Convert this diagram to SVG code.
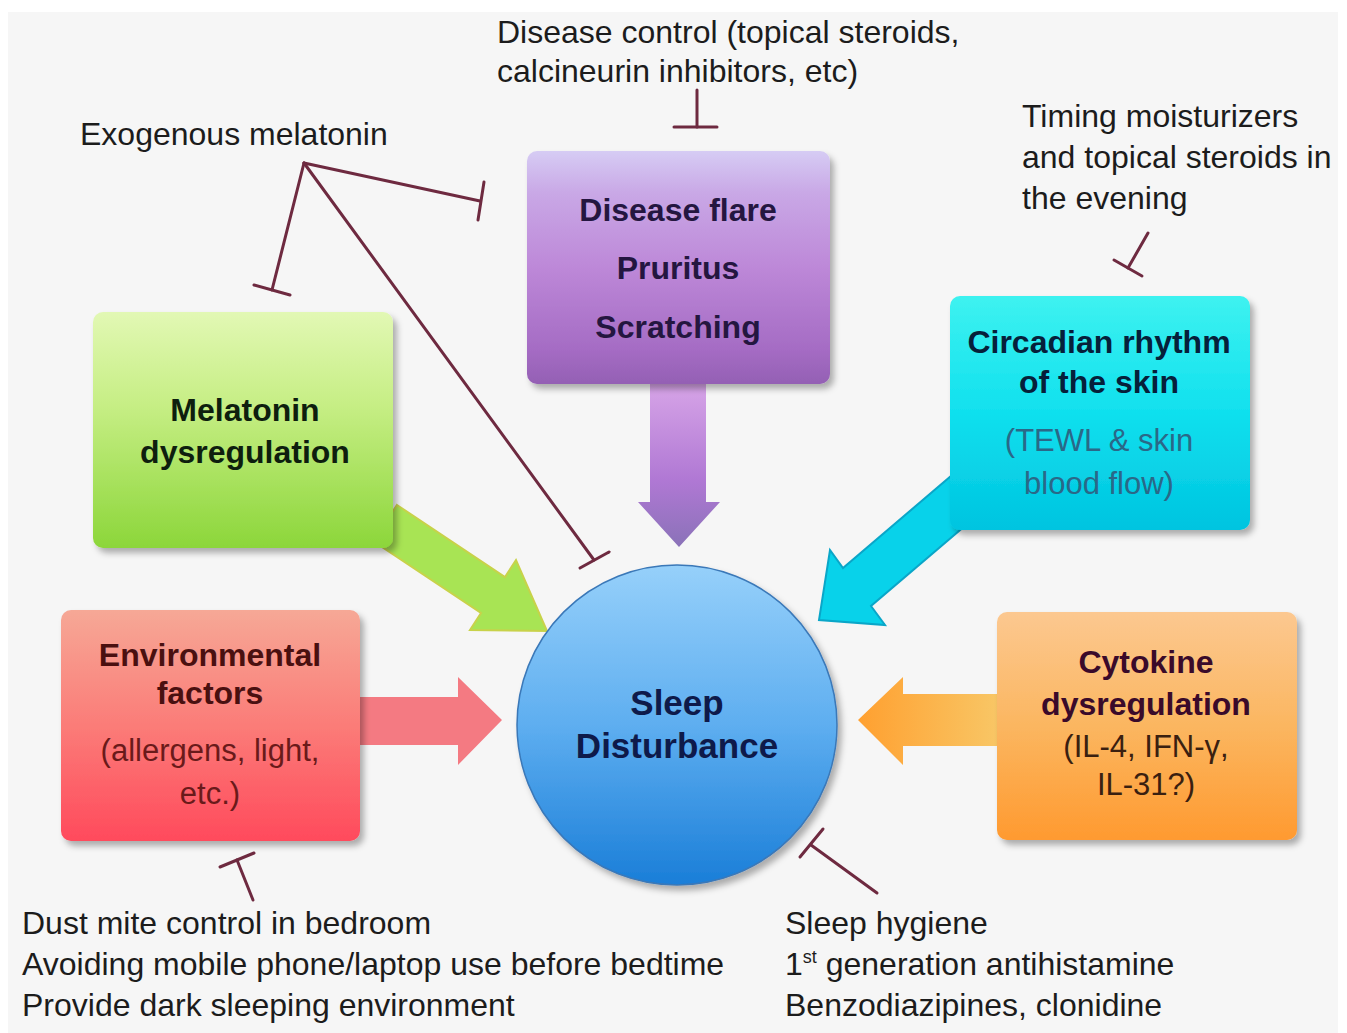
<svg xmlns="http://www.w3.org/2000/svg" width="1347" height="1033" viewBox="0 0 1347 1033">
<defs>
  <linearGradient id="gPurple" x1="0" y1="0" x2="0" y2="1">
    <stop offset="0" stop-color="#d6ccf4"/>
    <stop offset="0.18" stop-color="#c9a8e6"/>
    <stop offset="0.5" stop-color="#bd88d8"/>
    <stop offset="0.85" stop-color="#a56cc4"/>
    <stop offset="1" stop-color="#9460b4"/>
  </linearGradient>
  <linearGradient id="gGreen" x1="0" y1="0" x2="0" y2="1">
    <stop offset="0" stop-color="#e2f8b4"/>
    <stop offset="0.4" stop-color="#c6ee84"/>
    <stop offset="1" stop-color="#8cd63a"/>
  </linearGradient>
  <linearGradient id="gCyan" x1="0" y1="0" x2="0" y2="1">
    <stop offset="0" stop-color="#3ef2f0"/>
    <stop offset="0.5" stop-color="#10e0ee"/>
    <stop offset="1" stop-color="#00c4e0"/>
  </linearGradient>
  <linearGradient id="gRed" x1="0" y1="0" x2="0" y2="1">
    <stop offset="0" stop-color="#f6a896"/>
    <stop offset="0.5" stop-color="#fb7c78"/>
    <stop offset="1" stop-color="#ff4a5c"/>
  </linearGradient>
  <linearGradient id="gOrange" x1="0" y1="0" x2="0" y2="1">
    <stop offset="0" stop-color="#fcc890"/>
    <stop offset="0.5" stop-color="#fbb660"/>
    <stop offset="1" stop-color="#ff9a30"/>
  </linearGradient>
  <linearGradient id="gCircle" x1="0" y1="0" x2="0" y2="1">
    <stop offset="0" stop-color="#96d0fa"/>
    <stop offset="0.5" stop-color="#5eaef0"/>
    <stop offset="1" stop-color="#1a7ed8"/>
  </linearGradient>
  <linearGradient id="gArrPurple" x1="0" y1="0" x2="0" y2="1">
    <stop offset="0" stop-color="#d8a6e8"/>
    <stop offset="0.6" stop-color="#b078d4"/>
    <stop offset="1" stop-color="#8a72b8"/>
  </linearGradient>
  <linearGradient id="gArrOrange" x1="1" y1="0" x2="0" y2="0">
    <stop offset="0" stop-color="#f8c868"/>
    <stop offset="1" stop-color="#ffa030"/>
  </linearGradient>
  <filter id="shadow" x="-10%" y="-10%" width="125%" height="125%">
    <feDropShadow dx="4" dy="5" stdDeviation="3" flood-color="#000" flood-opacity="0.3"/>
  </filter>
</defs>
<style>
  .lbl{font-family:'Liberation Sans',Arial,sans-serif;font-size:32px;fill:#1c1c1c}
  .nt{font-family:'Liberation Sans',Arial,sans-serif;font-weight:bold;font-size:32px;text-anchor:middle}
  .ns{font-family:'Liberation Sans',Arial,sans-serif;font-size:31px;text-anchor:middle}
  .inh{stroke:#6e2a40;stroke-width:3;fill:none;stroke-linecap:round}
  .box{filter:url(#shadow)}
</style>

<rect x="0" y="0" width="1347" height="1033" fill="#ffffff"/>
<rect x="8" y="12" width="1330" height="1021" fill="#f6f6f6"/>

<g id="labels">
  <text class="lbl" x="497" y="43">Disease control (topical steroids,</text>
  <text class="lbl" x="497" y="82">calcineurin inhibitors, etc)</text>
  <text class="lbl" x="80" y="145">Exogenous melatonin</text>
  <text class="lbl" x="1022" y="127">Timing moisturizers</text>
  <text class="lbl" x="1022" y="168">and topical steroids in</text>
  <text class="lbl" x="1022" y="209">the evening</text>
  <text class="lbl" x="22" y="934">Dust mite control in bedroom</text>
  <text class="lbl" x="22" y="975">Avoiding mobile phone/laptop use before bedtime</text>
  <text class="lbl" x="22" y="1016">Provide dark sleeping environment</text>
  <text class="lbl" x="785" y="934">Sleep hygiene</text>
  <text class="lbl" x="785" y="975">1<tspan font-size="18" dy="-12">st</tspan><tspan dy="12"> generation antihistamine</tspan></text>
  <text class="lbl" x="785" y="1016">Benzodiazipines, clonidine</text>
</g>

<g id="connectors">
  <!-- block arrows -->
  <polygon points="650,380 706,380 706,502 720,502 679,547 638,502 650,502" fill="url(#gArrPurple)"/>
  <polygon points="397,505 505,577 516,560 547,631 470,630 481,613 373,541" fill="#a8e454" stroke="#c8d24a" stroke-width="2"/>
  <polygon points="965,464 843,568 830,550 819,620 885,625 871,606 993,502" fill="#08d2ea" stroke="#0aa6c8" stroke-width="2"/>
  <polygon points="350,697 458,697 458,677 502,720 458,765 458,745 350,745" fill="#f47a82"/>
  <polygon points="1005,694 903,694 903,677 858,720 903,765 903,746 1005,746" fill="url(#gArrOrange)"/>
  <!-- inhibition lines -->
  <line class="inh" x1="697" y1="90" x2="697" y2="127"/>
  <line class="inh" x1="674" y1="127" x2="717" y2="127"/>
  <line class="inh" x1="304" y1="163" x2="272" y2="290"/>
  <line class="inh" x1="254" y1="285" x2="290" y2="295"/>
  <line class="inh" x1="304" y1="163" x2="480" y2="201"/>
  <line class="inh" x1="484" y1="182" x2="478" y2="220"/>
  <line class="inh" x1="304" y1="163" x2="594" y2="560"/>
  <line class="inh" x1="580" y1="568" x2="609" y2="552"/>
  <line class="inh" x1="1148" y1="233" x2="1128" y2="268"/>
  <line class="inh" x1="1114" y1="260" x2="1142" y2="276"/>
  <line class="inh" x1="253" y1="900" x2="237" y2="860"/>
  <line class="inh" x1="220" y1="867" x2="254" y2="853"/>
  <line class="inh" x1="877" y1="893" x2="811" y2="845"/>
  <line class="inh" x1="800" y1="857" x2="823" y2="829"/>
</g>

<g id="node-disease-flare">
  <rect class="box" x="527" y="151" width="303" height="233" rx="10" fill="url(#gPurple)"/>
  <text class="nt" x="678" y="221" fill="#241640">Disease flare</text>
  <text class="nt" x="678" y="279" fill="#241640">Pruritus</text>
  <text class="nt" x="678" y="338" fill="#241640">Scratching</text>
</g>

<g id="node-melatonin">
  <rect class="box" x="93" y="312" width="300" height="236" rx="10" fill="url(#gGreen)"/>
  <text class="nt" x="245" y="421" fill="#0e1e0e">Melatonin</text>
  <text class="nt" x="245" y="463" fill="#0e1e0e">dysregulation</text>
</g>

<g id="node-circadian">
  <rect class="box" x="950" y="296" width="300" height="234" rx="10" fill="url(#gCyan)"/>
  <text class="nt" x="1099" y="353" fill="#06203a">Circadian rhythm</text>
  <text class="nt" x="1099" y="393" fill="#06203a">of the skin</text>
  <text class="ns" x="1099" y="451" fill="#2a6888">(TEWL &amp; skin</text>
  <text class="ns" x="1099" y="494" fill="#2a6888">blood flow)</text>
</g>

<g id="node-environmental">
  <rect class="box" x="61" y="610" width="299" height="231" rx="10" fill="url(#gRed)"/>
  <text class="nt" x="210" y="666" fill="#4a1010">Environmental</text>
  <text class="nt" x="210" y="704" fill="#4a1010">factors</text>
  <text class="ns" x="210" y="761" fill="#6a1a1a">(allergens, light,</text>
  <text class="ns" x="210" y="804" fill="#6a1a1a">etc.)</text>
</g>

<g id="node-cytokine">
  <rect class="box" x="997" y="612" width="300" height="228" rx="10" fill="url(#gOrange)"/>
  <text class="nt" x="1146" y="673" fill="#3a0a2a">Cytokine</text>
  <text class="nt" x="1146" y="715" fill="#3a0a2a">dysregulation</text>
  <text class="ns" x="1146" y="757" fill="#3a2010">(IL-4, IFN-γ,</text>
  <text class="ns" x="1146" y="795" fill="#3a2010">IL-31?)</text>
</g>

<g id="node-sleep">
  <circle class="box" cx="677" cy="725" r="160" fill="url(#gCircle)" stroke="#3a78b8" stroke-width="1.5"/>
  <text class="nt" x="677" y="715" fill="#0e1a4a" style="font-size:35px">Sleep</text>
  <text class="nt" x="677" y="758" fill="#0e1a4a" style="font-size:35px">Disturbance</text>
</g>
</svg>
